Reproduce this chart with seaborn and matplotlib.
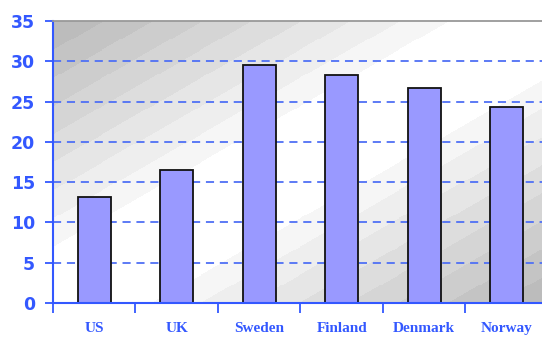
import numpy as np
import pandas as pd
import matplotlib
matplotlib.use("Agg")
import matplotlib.pyplot as plt
import seaborn as sns

countries = ["US", "UK", "Sweden", "Finland", "Denmark", "Norway"]
values = [13.1, 16.5, 29.5, 28.3, 26.7, 24.3]
y_ticks = [0, 5, 10, 15, 20, 25, 30, 35]

BLUE = "#3358FF"
BAR = "#9999FF"

sns.set_theme(style="white")
df = pd.DataFrame({"country": countries, "value": values})

fig = plt.figure(figsize=(5.42, 3.38), dpi=100)
W, H = 542, 338
ax = fig.add_axes([53 / W, 1 - 303 / H, 495 / W, 282 / H])

# background gradient (banded diagonal gray)
nx, ny = 500, 290
xx, yy = np.meshgrid(np.linspace(0, 1, nx), np.linspace(1, 0, ny))
d = np.abs(xx - yy)
t = np.clip((d - 0.2) / 0.8, 0, 1)
t = np.ceil(t * 8) / 8
g = 1 - 0.26 * t
img = np.dstack([g, g, g])
ax.imshow(img, extent=[0, 1, 0, 1], transform=ax.transAxes, aspect="auto",
          zorder=0, interpolation="nearest")

sns.barplot(data=df, x="country", y="value", color=BAR, width=0.4,
            edgecolor="#111111", linewidth=1.3, saturation=1, ax=ax, zorder=3)

ax.set_xlim(-0.5, 5.5)
ax.set_ylim(0, 35)
ax.set_yticks(y_ticks)
ax.set_yticklabels([str(v) for v in y_ticks], fontsize=12.5, fontweight="bold",
                   color=BLUE, family=["DejaVu Sans"])
for yv in y_ticks[1:-1]:
    ax.axhline(yv, color="#4F70F5", lw=1.3, ls=(0, (4.5, 3.2)), zorder=2)

ax.set_xticks(range(len(countries)))
ax.set_xticklabels(countries, fontsize=11, fontweight="bold", color=BLUE,
                   family=["Liberation Serif", "DejaVu Serif"])
ax.tick_params(axis="x", which="major", length=0, pad=14)
ax.set_xticks(np.arange(-0.5, 6, 1), minor=True)
ax.tick_params(axis="x", which="minor", length=7, width=1.3, color=BLUE,
               direction="out", bottom=True)
ax.tick_params(axis="y", which="major", length=6, width=1.3, color=BLUE,
               direction="out", left=True, pad=7)

ax.set_xlabel("")
ax.set_ylabel("")
for s in ["left", "bottom"]:
    ax.spines[s].set_color(BLUE)
    ax.spines[s].set_linewidth(1.5)
ax.spines["top"].set_color("#999999")
ax.spines["top"].set_linewidth(1.3)
ax.spines["right"].set_visible(False)
for sp in ax.spines.values():
    sp.set_zorder(5)

fig.savefig("out.png", dpi=100)
